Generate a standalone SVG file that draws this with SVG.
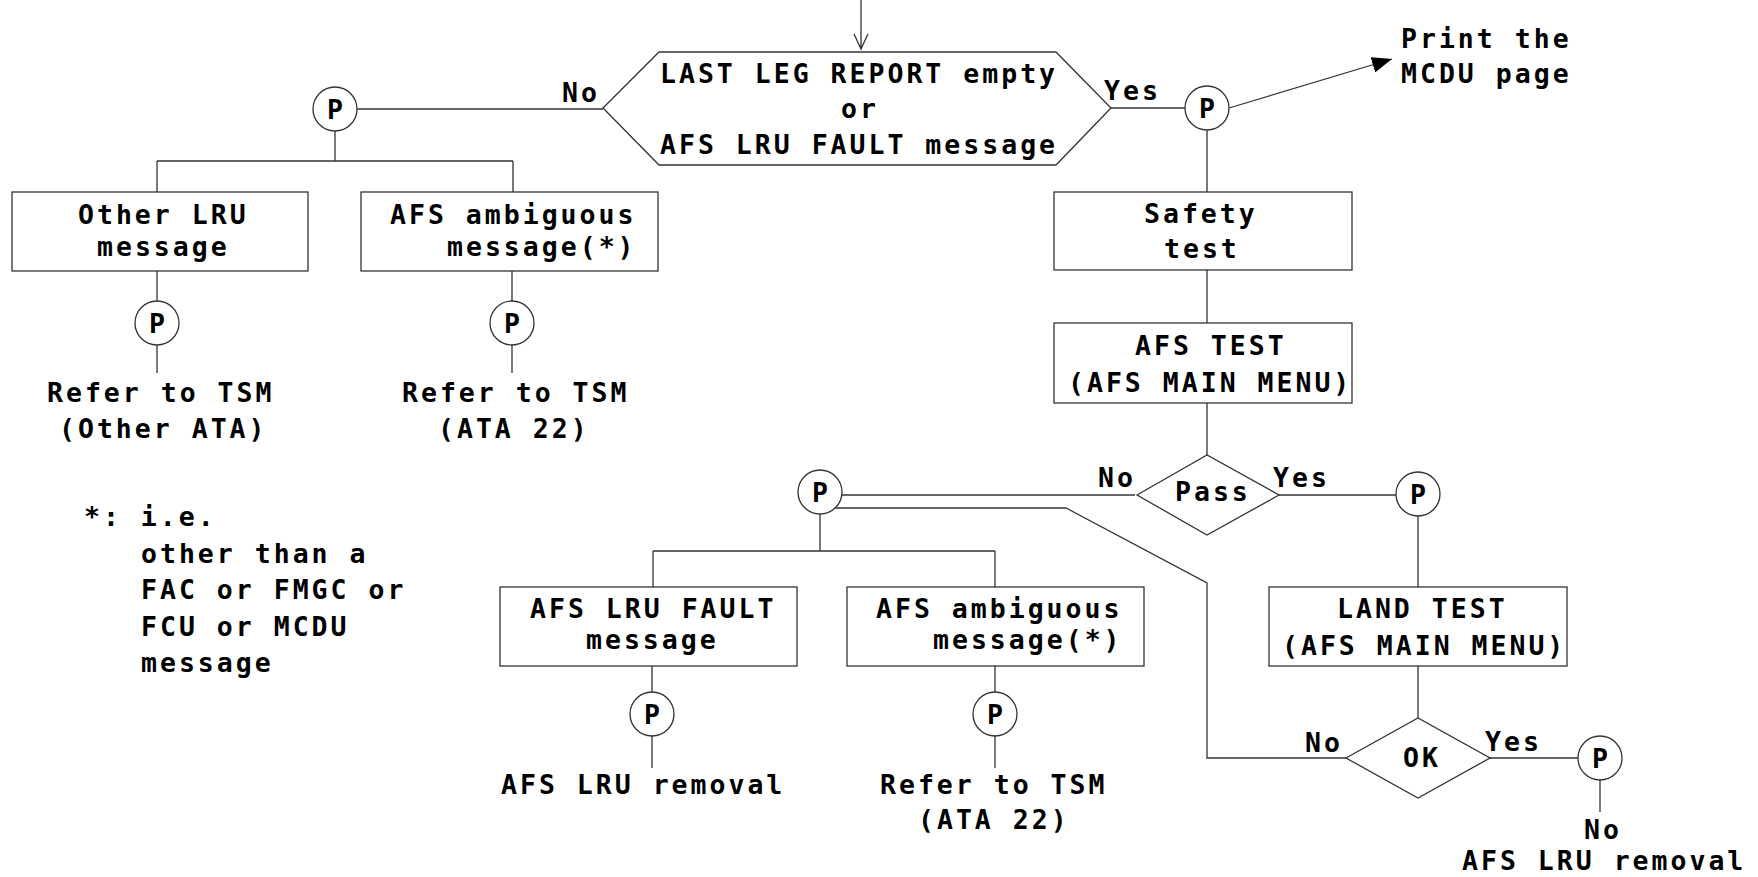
<svg xmlns="http://www.w3.org/2000/svg" width="1758" height="877" viewBox="0 0 1758 877">
<defs>
<style>
text{font-family:"DejaVu Sans Mono","Liberation Mono",monospace;font-weight:bold;font-size:26.5px;letter-spacing:3px;fill:#000}
.ln{fill:none;stroke:#333;stroke-width:1.3}
.bx{fill:#fff;stroke:#333;stroke-width:1.3}
.pc{fill:#fff;stroke:#333;stroke-width:1.3}
</style>
<marker id="ah" markerUnits="userSpaceOnUse" markerWidth="22" markerHeight="16" refX="20" refY="8" orient="auto">
<path d="M0,0 L20,8 L0,16 Z" fill="#000"/>
</marker>
</defs>
<rect width="1758" height="877" fill="#fff"/>

<g id="connectors">
<path class="ln" d="M861,0 V50 M854,34 L861,49 L868,34"/>
<path class="ln" d="M357,109 H603"/>
<path class="ln" d="M335,131 V161 M157,161 H513 M157,161 V192 M513,161 V192"/>
<path class="ln" d="M157,271 V302 M157,345 V373"/>
<path class="ln" d="M512,271 V302 M512,345 V373"/>
<path class="ln" d="M1111,108 H1185"/>
<path class="ln" d="M1229,108 L1392,59" marker-end="url(#ah)"/>
<path class="ln" d="M1207,130 V192 M1207,270 V323 M1207,403 V455"/>
<path class="ln" d="M842,495 H1135"/>
<path class="ln" d="M1279,495 H1396"/>
<path class="ln" d="M1418,516 V587 M1418,666 V718"/>
<path class="ln" d="M1490,758 H1578 M1600,780 V812"/>
<path class="ln" d="M1346,758 H1207 V583 L1066,508 H835"/>
<path class="ln" d="M820,514 V551 M653,551 H995 M653,551 V587 M995,551 V587"/>
<path class="ln" d="M652,666 V692 M652,736 V768"/>
<path class="ln" d="M995,666 V692 M995,736 V768"/>
</g>

<g id="decision-last-leg">
<polygon class="bx" points="603,108 659,52 1056,52 1111,108 1056,165 659,165"/>
<text x="660" y="83">LAST LEG REPORT empty</text>
<text x="841" y="118">or</text>
<text x="660" y="154">AFS LRU FAULT message</text>
</g>
<g id="label-no-1"><text x="562" y="102">No</text></g>
<g id="label-yes-1"><text x="1104" y="100">Yes</text></g>

<g id="p-left"><circle class="pc" cx="335" cy="109" r="22"/><text x="327" y="119">P</text></g>
<g id="box-other-lru">
<rect class="bx" x="12" y="192" width="296" height="79"/>
<text x="78" y="224">Other LRU</text>
<text x="97" y="256">message</text>
</g>
<g id="box-afs-ambiguous-1">
<rect class="bx" x="361" y="192" width="297" height="79"/>
<text x="390" y="224">AFS ambiguous</text>
<text x="447" y="256">message(*)</text>
</g>
<g id="p-other"><circle class="pc" cx="157" cy="323" r="22"/><text x="149" y="333">P</text></g>
<g id="p-amb-1"><circle class="pc" cx="512" cy="323" r="22"/><text x="504" y="333">P</text></g>
<g id="end-other-ata">
<text x="47" y="402">Refer to TSM</text>
<text x="59" y="438">(Other ATA)</text>
</g>
<g id="end-ata22-1">
<text x="402" y="402">Refer to TSM</text>
<text x="438" y="438">(ATA 22)</text>
</g>

<g id="footnote">
<text x="84" y="526">*: i.e.</text>
<text x="141" y="563">other than a</text>
<text x="141" y="599">FAC or FMGC or</text>
<text x="141" y="636">FCU or MCDU</text>
<text x="141" y="672">message</text>
</g>

<g id="p-yes"><circle class="pc" cx="1207" cy="108" r="22"/><text x="1199" y="118">P</text></g>
<g id="end-print">
<text x="1401" y="48">Print the</text>
<text x="1401" y="83">MCDU page</text>
</g>
<g id="box-safety">
<rect class="bx" x="1054" y="192" width="298" height="78"/>
<text x="1144" y="223">Safety</text>
<text x="1164" y="258">test</text>
</g>
<g id="box-afs-test">
<rect class="bx" x="1054" y="323" width="298" height="80"/>
<text x="1135" y="355">AFS TEST</text>
<text x="1068" y="392">(AFS MAIN MENU)</text>
</g>
<g id="decision-pass">
<polygon class="bx" points="1137,495 1207,455 1279,495 1207,535"/>
<text x="1175" y="501">Pass</text>
</g>
<g id="label-no-2"><text x="1098" y="487">No</text></g>
<g id="label-yes-2"><text x="1273" y="487">Yes</text></g>

<g id="p-pass-no"><circle class="pc" cx="820" cy="492" r="22"/><text x="812" y="502">P</text></g>
<g id="p-pass-yes"><circle class="pc" cx="1418" cy="494" r="22"/><text x="1410" y="504">P</text></g>

<g id="box-afs-lru-fault">
<rect class="bx" x="500" y="587" width="297" height="79"/>
<text x="530" y="618">AFS LRU FAULT</text>
<text x="586" y="649">message</text>
</g>
<g id="box-afs-ambiguous-2">
<rect class="bx" x="847" y="587" width="297" height="79"/>
<text x="876" y="618">AFS ambiguous</text>
<text x="933" y="649">message(*)</text>
</g>
<g id="p-fault"><circle class="pc" cx="652" cy="714" r="22"/><text x="644" y="724">P</text></g>
<g id="p-amb-2"><circle class="pc" cx="995" cy="714" r="22"/><text x="987" y="724">P</text></g>
<g id="end-lru-removal"><text x="501" y="794">AFS LRU removal</text></g>
<g id="end-ata22-2">
<text x="880" y="794">Refer to TSM</text>
<text x="918" y="829">(ATA 22)</text>
</g>

<g id="box-land-test">
<rect class="bx" x="1269" y="587" width="298" height="79"/>
<text x="1337" y="618">LAND TEST</text>
<text x="1282" y="655">(AFS MAIN MENU)</text>
</g>
<g id="decision-ok">
<polygon class="bx" points="1346,758 1418,718 1490,758 1418,798"/>
<text x="1403" y="767">OK</text>
</g>
<g id="label-no-3"><text x="1305" y="752">No</text></g>
<g id="label-yes-3"><text x="1485" y="751">Yes</text></g>
<g id="p-ok"><circle class="pc" cx="1600" cy="758" r="22"/><text x="1592" y="768">P</text></g>
<g id="end-no-removal">
<text x="1584" y="839">No</text>
<text x="1462" y="870">AFS LRU removal</text>
</g>
</svg>
